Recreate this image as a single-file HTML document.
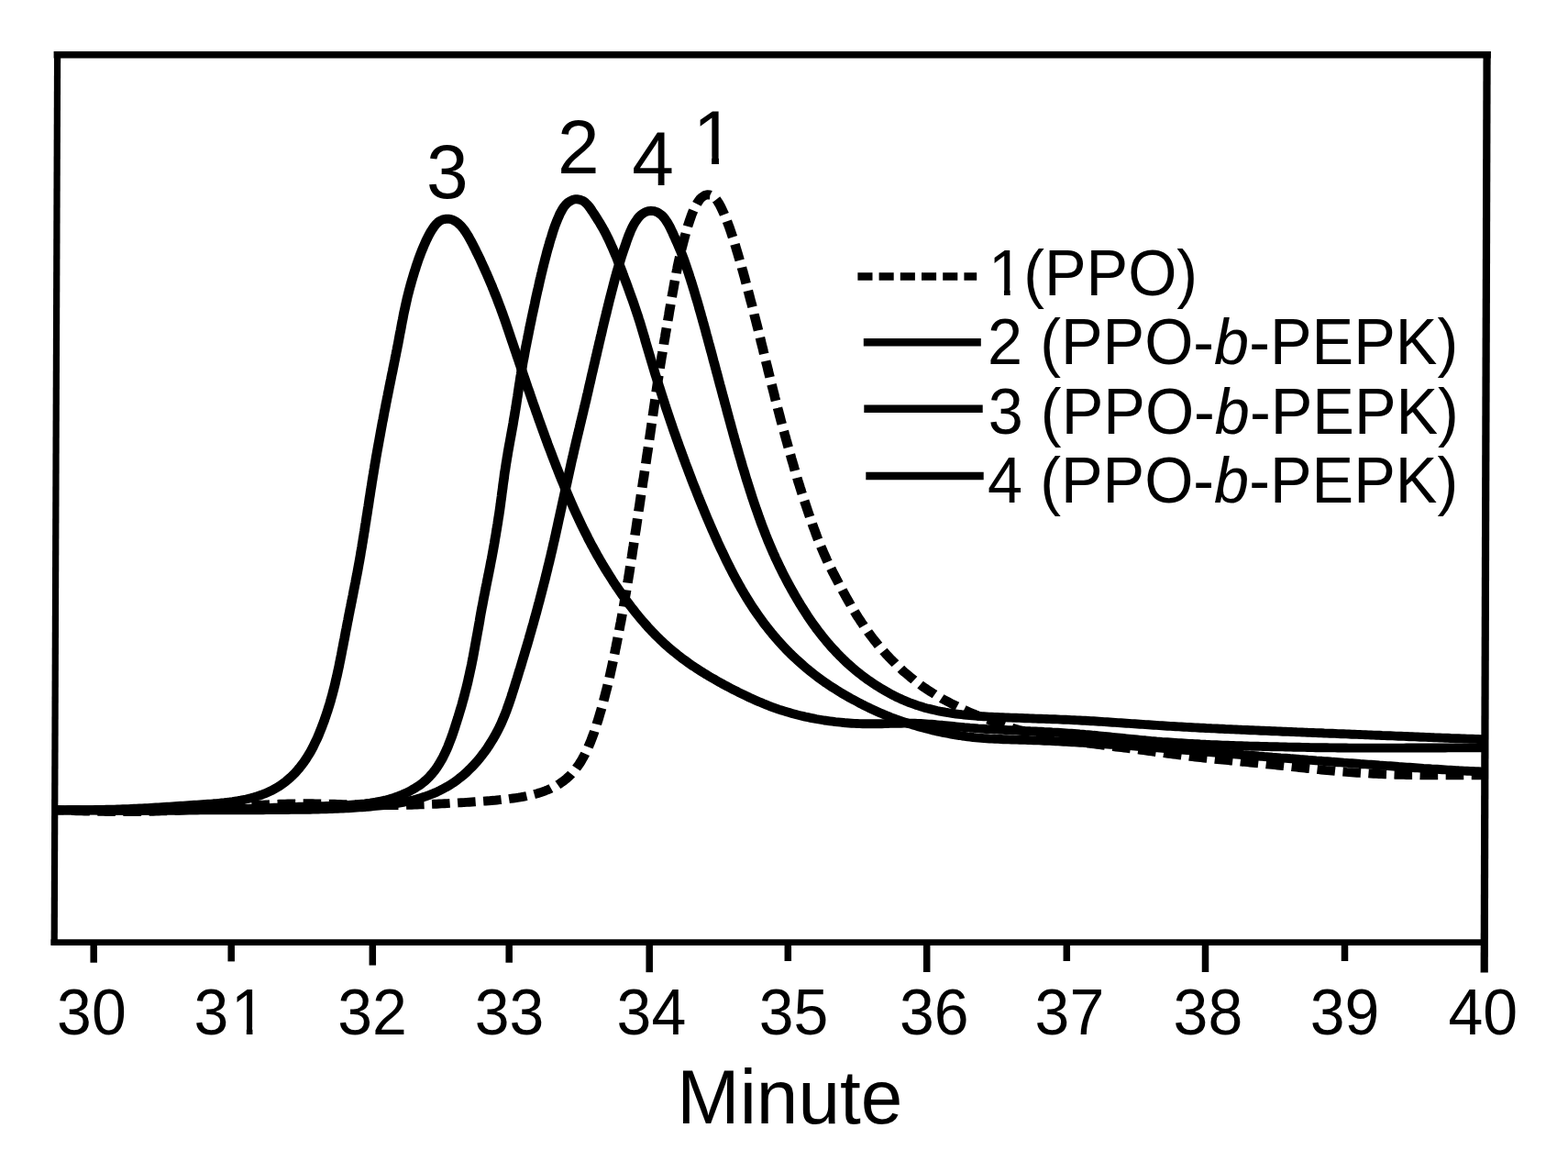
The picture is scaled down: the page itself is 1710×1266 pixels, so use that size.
<!DOCTYPE html>
<html lang="en"><head><meta charset="utf-8"><title>GPC traces</title>
<style>
html,body{margin:0;padding:0;background:#fff;}
body{width:1710px;height:1266px;overflow:hidden;}
svg{display:block;filter:blur(0.6px);}
text{font-family:"Liberation Sans",sans-serif;fill:#000;white-space:pre;}
.c{fill:none;stroke:#000;stroke-width:9.9;stroke-linejoin:round;stroke-linecap:butt;}
.f{fill:none;stroke:#000;stroke-linecap:butt;}
.tl{font-size:68px;}
.lg{font-size:68.4px;}
.pk{font-size:82px;}
.ax{font-size:82px;}
</style></head><body>
<svg width="1710" height="1266" viewBox="0 0 1710 1266">
<rect x="0" y="0" width="1710" height="1266" fill="#fff"/>
<defs><clipPath id="kt31" clipPathUnits="userSpaceOnUse"><path clip-rule="evenodd" d="M-50 -50H1800V1400H-50Z M255.42 1120.02H268.82V1130.60H255.42Z M275.43 1120.02H288.06V1130.60H275.43Z"/></clipPath><clipPath id="kp1" clipPathUnits="userSpaceOnUse"><path clip-rule="evenodd" d="M-50 -50H1800V1400H-50Z M759.90 170.57H776.12V182.20H759.90Z M783.96 170.57H799.26V182.20H783.96Z"/></clipPath><clipPath id="kl1" clipPathUnits="userSpaceOnUse"><path clip-rule="evenodd" d="M-50 -50H1800V1400H-50Z M1081.52 314.09H1095.00V324.70H1081.52Z M1101.64 314.09H1114.35V324.70H1101.64Z"/></clipPath></defs>
<g id="curves" transform="scale(1.07,1)">
<path class="c" stroke-dasharray="18.3 7.95" stroke-dashoffset="11.03" d="M57.9 883.4L60.7 883.5 63.5 883.6 66.4 883.7 69.2 883.9 72.0 884.0 74.8 884.1 77.6 884.2 80.4 884.3 83.2 884.4 86.0 884.5 88.8 884.6 91.6 884.6 94.4 884.7 97.2 884.8 100.0 884.8 102.8 884.9 105.6 884.9 108.4 885.0 111.2 885.0 114.0 885.0 116.8 885.1 119.6 885.1 122.4 885.1 125.2 885.1 128.0 885.1 130.8 885.1 133.7 885.1 136.5 885.0 139.3 885.0 142.1 885.0 144.9 884.9 147.7 884.9 150.5 884.8 153.3 884.7 156.1 884.7 158.9 884.6 161.7 884.5 164.5 884.4 167.3 884.3 170.1 884.2 172.9 884.1 175.7 883.9 178.5 883.8 181.3 883.7 184.1 883.5 186.9 883.4 189.7 883.2 192.5 883.0 195.3 882.8 198.1 882.7 200.9 882.5 203.7 882.3 206.5 882.1 209.3 881.9 212.1 881.7 214.9 881.4 217.7 881.2 220.5 881.0 223.3 880.8 226.1 880.6 228.9 880.4 231.7 880.1 234.5 879.9 237.3 879.7 240.1 879.5 242.9 879.3 245.7 879.1 248.5 878.9 251.3 878.7 254.1 878.5 256.9 878.3 259.7 878.1 262.5 877.9 265.3 877.7 268.1 877.6 270.9 877.4 273.7 877.3 276.5 877.1 279.3 877.0 282.1 876.9 284.9 876.8 287.7 876.7 290.5 876.6 293.3 876.5 296.1 876.5 298.9 876.4 301.7 876.4 304.5 876.4 307.3 876.3 310.1 876.3 312.9 876.3 315.7 876.3 318.5 876.3 321.3 876.4 324.2 876.4 327.0 876.5 329.8 876.5 332.6 876.6 335.4 876.6 338.2 876.7 341.0 876.8 343.8 876.9 346.6 877.0 349.4 877.1 352.2 877.1 355.0 877.2 357.8 877.3 360.6 877.4 363.4 877.5 366.2 877.6 369.0 877.7 371.8 877.8 374.6 877.9 377.4 877.9 380.2 878.0 383.0 878.0 385.8 878.1 388.6 878.1 391.4 878.1 394.3 878.1 397.1 878.1 399.9 878.1 402.7 878.1 405.5 878.0 408.3 878.0 411.1 877.9 413.9 877.9 416.7 877.8 419.5 877.7 422.3 877.6 425.1 877.5 427.9 877.4 430.7 877.3 433.5 877.2 436.3 877.0 439.1 876.9 441.9 876.8 444.7 876.7 447.5 876.5 450.3 876.4 453.1 876.2 455.9 876.1 458.7 875.9 461.5 875.7 464.3 875.6 467.1 875.4 469.9 875.2 472.7 875.1 475.5 874.9 478.3 874.7 481.1 874.5 483.9 874.3 486.7 874.1 489.5 873.9 492.3 873.7 495.1 873.5 497.9 873.3 500.7 873.0 503.5 872.8 506.3 872.5 509.1 872.2 511.9 871.9 514.7 871.6 517.5 871.3 520.2 870.9 523.0 870.5 525.8 870.1 528.6 869.7 531.3 869.2 534.1 868.6 536.9 868.0 539.6 867.4 542.3 866.7 545.0 866.0 547.7 865.2 550.4 864.3 553.1 863.3 555.7 862.3 558.3 861.2 560.9 860.0 563.4 858.7 565.9 857.4 568.4 855.9 570.8 854.3 573.1 852.6 575.3 850.8 577.5 848.9 579.6 846.9 581.6 844.8 583.5 842.6 585.3 840.4 587.1 838.0 588.8 835.6 590.4 833.1 591.9 830.6 593.3 828.0 594.7 825.4 596.0 822.8 597.3 820.1 598.5 817.4 599.6 814.7 600.7 811.9 601.8 809.1 602.8 806.3 603.8 803.5 604.8 800.7 605.7 797.9 606.6 795.0 607.5 792.2 608.3 789.3 609.2 786.5 610.0 783.6 610.8 780.7 611.6 777.8 612.4 775.0 613.2 772.1 613.9 769.2 614.7 766.3 615.4 763.4 616.1 760.5 616.8 757.6 617.5 754.7 618.2 751.8 618.9 748.9 619.6 745.9 620.2 743.0 620.9 740.1 621.5 737.2 622.1 734.2 622.7 731.3 623.3 728.4 623.9 725.5 624.5 722.5 625.1 719.6 625.6 716.6 626.2 713.7 626.8 710.8 627.3 707.8 627.9 704.9 628.4 701.9 629.0 699.0 629.5 696.0 630.0 693.1 630.6 690.1 631.1 687.2 631.6 684.3 632.1 681.3 632.7 678.4 633.2 675.4 633.7 672.5 634.2 669.5 634.7 666.5 635.2 663.6 635.7 660.6 636.2 657.7 636.6 654.7 637.1 651.8 637.6 648.8 638.1 645.9 638.5 642.9 639.0 639.9 639.5 637.0 639.9 634.0 640.4 631.0 640.8 628.1 641.3 625.1 641.7 622.2 642.1 619.2 642.6 616.2 643.0 613.3 643.4 610.3 643.9 607.3 644.3 604.4 644.7 601.4 645.1 598.4 645.6 595.5 646.0 592.5 646.4 589.5 646.8 586.6 647.2 583.6 647.6 580.6 648.1 577.7 648.5 574.7 648.9 571.7 649.3 568.8 649.7 565.8 650.1 562.8 650.5 559.8 650.9 556.9 651.4 553.9 651.8 550.9 652.2 548.0 652.6 545.0 653.0 542.0 653.4 539.1 653.9 536.1 654.3 533.1 654.7 530.2 655.1 527.2 655.5 524.2 656.0 521.3 656.4 518.3 656.8 515.3 657.2 512.4 657.7 509.4 658.1 506.4 658.5 503.5 658.9 500.5 659.3 497.5 659.7 494.6 660.2 491.6 660.6 488.6 661.0 485.7 661.4 482.7 661.8 479.7 662.2 476.7 662.6 473.8 663.0 470.8 663.4 467.8 663.8 464.9 664.2 461.9 664.6 458.9 665.0 455.9 665.4 453.0 665.8 450.0 666.2 447.0 666.6 444.1 667.0 441.1 667.4 438.1 667.8 435.2 668.2 432.2 668.6 429.2 669.0 426.2 669.4 423.3 669.8 420.3 670.2 417.3 670.6 414.4 671.1 411.4 671.5 408.4 671.9 405.5 672.4 402.5 672.8 399.5 673.2 396.6 673.7 393.6 674.1 390.7 674.6 387.7 675.1 384.7 675.5 381.8 676.0 378.8 676.5 375.9 676.9 372.9 677.4 369.9 677.9 367.0 678.3 364.0 678.8 361.1 679.3 358.1 679.8 355.1 680.2 352.2 680.7 349.2 681.2 346.3 681.7 343.3 682.1 340.4 682.6 337.4 683.1 334.4 683.6 331.5 684.1 328.5 684.5 325.6 685.0 322.6 685.5 319.7 686.0 316.7 686.5 313.8 687.0 310.8 687.5 307.8 688.0 304.9 688.5 301.9 689.1 299.0 689.6 296.1 690.2 293.1 690.7 290.2 691.3 287.2 691.9 284.3 692.5 281.4 693.1 278.4 693.8 275.5 694.4 272.6 695.1 269.7 695.8 266.8 696.5 263.9 697.2 261.0 697.9 258.1 698.7 255.2 699.4 252.3 700.2 249.4 701.0 246.5 701.9 243.7 702.8 240.8 703.7 238.0 704.6 235.2 705.6 232.4 706.7 229.6 707.9 226.9 709.2 224.2 710.6 221.6 712.1 219.1 713.8 216.7 715.9 214.7 718.2 213.1 720.9 212.3 723.7 212.5 726.3 213.7 728.5 215.6 730.3 217.8 731.9 220.3 733.3 222.9 734.6 225.5 735.8 228.2 737.0 230.9 738.2 233.7 739.3 236.4 740.3 239.2 741.3 242.0 742.3 244.8 743.3 247.7 744.2 250.5 745.1 253.3 746.0 256.2 746.9 259.0 747.7 261.9 748.6 264.8 749.4 267.6 750.2 270.5 751.0 273.4 751.8 276.2 752.6 279.1 753.4 282.0 754.2 284.9 755.0 287.8 755.8 290.6 756.5 293.5 757.3 296.4 758.0 299.3 758.8 302.2 759.5 305.1 760.2 308.0 761.0 310.9 761.7 313.8 762.4 316.7 763.1 319.6 763.8 322.5 764.5 325.4 765.2 328.3 766.0 331.2 766.7 334.1 767.4 337.0 768.1 339.9 768.7 342.8 769.4 345.8 770.1 348.7 770.8 351.6 771.5 354.5 772.2 357.4 772.9 360.3 773.5 363.2 774.2 366.1 774.9 369.0 775.5 372.0 776.2 374.9 776.9 377.8 777.6 380.7 778.2 383.6 778.9 386.5 779.6 389.4 780.2 392.4 780.9 395.3 781.6 398.2 782.3 401.1 782.9 404.0 783.6 406.9 784.3 409.8 785.0 412.8 785.6 415.7 786.3 418.6 787.0 421.5 787.7 424.4 788.4 427.3 789.1 430.2 789.7 433.1 790.4 436.0 791.1 438.9 791.8 441.8 792.5 444.8 793.3 447.7 794.0 450.6 794.7 453.5 795.4 456.4 796.1 459.3 796.9 462.2 797.6 465.1 798.3 468.0 799.1 470.8 799.8 473.7 800.6 476.6 801.3 479.5 802.1 482.4 802.8 485.3 803.6 488.2 804.3 491.1 805.1 494.0 805.9 496.9 806.6 499.7 807.4 502.6 808.2 505.5 809.0 508.4 809.7 511.3 810.5 514.2 811.3 517.0 812.1 519.9 812.9 522.8 813.7 525.7 814.6 528.5 815.4 531.4 816.3 534.3 817.1 537.1 818.0 540.0 818.8 542.8 819.7 545.7 820.6 548.5 821.5 551.4 822.4 554.2 823.3 557.1 824.2 559.9 825.1 562.7 826.0 565.6 827.0 568.4 827.9 571.2 828.8 574.1 829.8 576.9 830.8 579.7 831.7 582.5 832.7 585.3 833.7 588.1 834.8 590.9 835.8 593.7 836.9 596.5 838.0 599.2 839.1 602.0 840.2 604.7 841.4 607.5 842.5 610.2 843.7 612.9 845.0 615.6 846.2 618.3 847.5 621.0 848.7 623.7 850.0 626.3 851.3 629.0 852.6 631.7 853.9 634.3 855.2 637.0 856.5 639.6 857.9 642.3 859.2 644.9 860.6 647.5 861.9 650.1 863.3 652.8 864.7 655.4 866.1 658.0 867.5 660.6 868.9 663.2 870.3 665.7 871.8 668.3 873.2 670.9 874.7 673.4 876.3 675.9 877.8 678.4 879.4 680.9 880.9 683.4 882.5 685.9 884.2 688.3 885.8 690.7 887.5 693.1 889.2 695.5 890.9 697.9 892.7 700.2 894.4 702.6 896.2 704.9 898.1 707.2 899.9 709.4 901.8 711.7 903.7 713.9 905.6 716.1 907.5 718.2 909.5 720.4 911.5 722.5 913.5 724.6 915.5 726.7 917.5 728.7 919.6 730.8 921.7 732.8 923.8 734.7 926.0 736.7 928.1 738.6 930.3 740.4 932.5 742.3 934.8 744.1 937.0 745.9 939.3 747.7 941.6 749.4 943.9 751.1 946.2 752.7 948.6 754.4 951.0 756.0 953.3 757.5 955.8 759.1 958.2 760.6 960.6 762.1 963.1 763.5 965.6 764.9 968.0 766.3 970.5 767.7 973.0 769.0 975.6 770.3 978.1 771.6 980.6 772.9 983.2 774.1 985.8 775.4 988.3 776.6 990.9 777.8 993.5 778.9 996.1 780.1 998.7 781.2 1001.3 782.3 1003.9 783.4 1006.5 784.5 1009.1 785.5 1011.8 786.6 1014.4 787.6 1017.1 788.6 1019.7 789.6 1022.4 790.6 1025.0 791.5 1027.7 792.4 1030.4 793.3 1033.0 794.2 1035.7 795.1 1038.4 795.9 1041.1 796.7 1043.8 797.5 1046.5 798.3 1049.3 799.0 1052.0 799.7 1054.7 800.4 1057.5 801.1 1060.2 801.7 1062.9 802.3 1065.7 803.0 1068.4 803.5 1071.2 804.1 1073.9 804.7 1076.7 805.2 1079.5 805.7 1082.2 806.2 1085.0 806.7 1087.8 807.2 1090.5 807.7 1093.3 808.1 1096.1 808.6 1098.9 809.0 1101.6 809.4 1104.4 809.8 1107.2 810.3 1110.0 810.7 1112.8 811.1 1115.5 811.4 1118.3 811.8 1121.1 812.2 1123.9 812.6 1126.7 813.0 1129.4 813.4 1132.2 813.7 1135.0 814.1 1137.8 814.5 1140.6 814.8 1143.4 815.2 1146.1 815.6 1148.9 815.9 1151.7 816.3 1154.5 816.7 1157.3 817.1 1160.1 817.4 1162.8 817.8 1165.6 818.2 1168.4 818.6 1171.2 819.0 1174.0 819.4 1176.7 819.8 1179.5 820.2 1182.3 820.6 1185.1 821.0 1187.9 821.4 1190.6 821.8 1193.4 822.2 1196.2 822.6 1199.0 822.9 1201.8 823.3 1204.6 823.7 1207.3 824.1 1210.1 824.4 1212.9 824.8 1215.7 825.1 1218.5 825.5 1221.3 825.8 1224.1 826.2 1226.8 826.5 1229.6 826.8 1232.4 827.1 1235.2 827.4 1238.0 827.7 1240.8 828.0 1243.6 828.3 1246.4 828.6 1249.2 828.9 1252.0 829.2 1254.7 829.5 1257.5 829.8 1260.3 830.1 1263.1 830.4 1265.9 830.7 1268.7 830.9 1271.5 831.2 1274.3 831.5 1277.1 831.8 1279.9 832.1 1282.7 832.4 1285.5 832.7 1288.3 833.0 1291.0 833.3 1293.8 833.6 1296.6 833.9 1299.4 834.2 1302.2 834.5 1305.0 834.8 1307.8 835.1 1310.6 835.4 1313.4 835.7 1316.2 836.1 1318.9 836.4 1321.7 836.7 1324.5 837.0 1327.3 837.3 1330.1 837.6 1332.9 838.0 1335.7 838.3 1338.5 838.6 1341.3 838.9 1344.0 839.2 1346.8 839.5 1349.6 839.8 1352.4 840.1 1355.2 840.3 1358.0 840.6 1360.8 840.9 1363.6 841.1 1366.4 841.4 1369.2 841.6 1372.0 841.9 1374.8 842.1 1377.6 842.3 1380.4 842.5 1383.2 842.7 1386.0 842.9 1388.8 843.1 1391.6 843.3 1394.4 843.4 1397.2 843.6 1400.0 843.7 1402.8 843.9 1405.6 844.0 1408.4 844.1 1411.2 844.3 1414.0 844.4 1416.8 844.5 1419.6 844.6 1422.4 844.7 1425.2 844.7 1428.0 844.8 1430.8 844.9 1433.6 845.0 1436.4 845.0 1439.2 845.1 1442.0 845.1 1444.8 845.1 1447.6 845.2 1450.4 845.2 1453.2 845.2 1456.1 845.3 1458.9 845.3 1461.7 845.3 1464.5 845.3 1467.3 845.3 1470.1 845.3 1472.9 845.3 1475.7 845.3 1478.5 845.3 1481.3 845.3 1484.1 845.3 1486.9 845.3 1489.7 845.3 1492.5 845.3 1495.3 845.3 1498.1 845.3 1500.9 845.3 1503.7 845.3 1506.5 845.2 1509.3 845.2 1512.1 845.2 1515.0 845.2"/>
<path class="c" d="M57.9 883.4L60.7 883.4 63.6 883.4 66.4 883.4 69.2 883.3 72.0 883.3 74.8 883.3 77.6 883.3 80.4 883.3 83.2 883.2 86.0 883.2 88.8 883.2 91.6 883.1 94.4 883.1 97.2 883.0 100.0 883.0 102.8 882.9 105.6 882.9 108.4 882.8 111.2 882.7 114.0 882.7 116.8 882.6 119.6 882.5 122.4 882.4 125.2 882.3 128.0 882.2 130.8 882.1 133.6 881.9 136.5 881.8 139.3 881.7 142.1 881.5 144.9 881.4 147.7 881.2 150.5 881.1 153.3 880.9 156.1 880.7 158.9 880.5 161.7 880.4 164.5 880.2 167.3 880.0 170.1 879.8 172.9 879.6 175.7 879.4 178.4 879.2 181.2 879.0 184.0 878.8 186.8 878.6 189.6 878.4 192.4 878.2 195.2 878.0 198.0 877.8 200.8 877.6 203.6 877.4 206.4 877.2 209.2 877.0 212.0 876.8 214.8 876.6 217.6 876.3 220.4 876.1 223.2 875.8 226.0 875.5 228.8 875.2 231.6 874.8 234.4 874.5 237.1 874.1 239.9 873.6 242.7 873.2 245.4 872.7 248.2 872.1 250.9 871.5 253.7 870.8 256.4 870.1 259.1 869.3 261.8 868.4 264.4 867.5 267.1 866.5 269.7 865.4 272.3 864.2 274.8 863.0 277.4 861.7 279.8 860.2 282.3 858.7 284.7 857.2 287.0 855.5 289.3 853.8 291.5 851.9 293.6 850.0 295.8 848.0 297.8 846.0 299.8 843.9 301.7 841.7 303.6 839.4 305.4 837.1 307.1 834.8 308.8 832.4 310.4 830.0 312.0 827.5 313.5 824.9 315.0 822.4 316.4 819.8 317.8 817.2 319.1 814.5 320.3 811.8 321.5 809.1 322.7 806.4 323.9 803.7 325.0 800.9 326.0 798.1 327.1 795.3 328.1 792.5 329.1 789.7 330.1 786.9 331.0 784.1 331.9 781.3 332.8 778.4 333.7 775.6 334.5 772.7 335.4 769.8 336.2 767.0 337.0 764.1 337.7 761.2 338.5 758.3 339.2 755.4 339.9 752.5 340.6 749.6 341.3 746.7 341.9 743.8 342.5 740.8 343.2 737.9 343.8 735.0 344.4 732.1 345.0 729.1 345.6 726.2 346.1 723.2 346.7 720.3 347.2 717.4 347.8 714.4 348.3 711.5 348.8 708.5 349.4 705.6 349.9 702.6 350.4 699.7 351.0 696.7 351.5 693.8 352.0 690.8 352.5 687.9 353.1 684.9 353.6 682.0 354.1 679.1 354.7 676.1 355.2 673.2 355.7 670.2 356.3 667.3 356.8 664.3 357.4 661.4 357.9 658.4 358.5 655.5 359.0 652.6 359.6 649.6 360.1 646.7 360.6 643.7 361.2 640.8 361.7 637.8 362.3 634.9 362.8 631.9 363.3 629.0 363.9 626.0 364.4 623.1 364.9 620.1 365.4 617.2 365.9 614.2 366.4 611.3 366.9 608.3 367.4 605.4 367.8 602.4 368.3 599.5 368.8 596.5 369.2 593.5 369.7 590.6 370.1 587.6 370.6 584.7 371.0 581.7 371.5 578.7 371.9 575.8 372.3 572.8 372.8 569.8 373.2 566.9 373.6 563.9 374.1 560.9 374.5 558.0 374.9 555.0 375.4 552.0 375.8 549.1 376.2 546.1 376.6 543.1 377.1 540.2 377.5 537.2 377.9 534.3 378.4 531.3 378.8 528.3 379.2 525.4 379.7 522.4 380.1 519.4 380.6 516.5 381.0 513.5 381.5 510.5 381.9 507.6 382.4 504.6 382.9 501.7 383.3 498.7 383.8 495.8 384.3 492.8 384.8 489.8 385.3 486.9 385.8 483.9 386.3 481.0 386.8 478.0 387.3 475.1 387.8 472.1 388.3 469.2 388.8 466.2 389.3 463.3 389.8 460.3 390.4 457.4 390.9 454.4 391.4 451.5 391.9 448.5 392.5 445.6 393.0 442.6 393.5 439.7 394.1 436.8 394.6 433.8 395.2 430.9 395.7 427.9 396.3 425.0 396.8 422.0 397.4 419.1 397.9 416.2 398.5 413.2 399.0 410.3 399.6 407.3 400.2 404.4 400.7 401.4 401.3 398.5 401.8 395.6 402.4 392.6 402.9 389.7 403.5 386.7 404.0 383.8 404.6 380.9 405.1 377.9 405.7 375.0 406.2 372.0 406.7 369.1 407.2 366.1 407.7 363.2 408.3 360.2 408.8 357.3 409.3 354.3 409.8 351.4 410.4 348.4 410.9 345.5 411.4 342.5 412.0 339.6 412.6 336.7 413.2 333.7 413.8 330.8 414.4 327.9 415.0 325.0 415.7 322.0 416.4 319.1 417.1 316.2 417.8 313.3 418.6 310.4 419.3 307.5 420.1 304.7 420.9 301.8 421.7 298.9 422.5 296.0 423.4 293.2 424.2 290.3 425.1 287.5 426.0 284.6 426.9 281.8 427.9 279.0 428.9 276.2 429.9 273.4 431.0 270.6 432.1 267.8 433.2 265.1 434.3 262.4 435.6 259.6 436.8 257.0 438.2 254.3 439.6 251.7 441.1 249.2 442.7 246.8 444.5 244.4 446.5 242.3 448.8 240.6 451.3 239.4 454.1 238.8 456.9 238.7 459.6 239.2 462.3 240.2 464.7 241.6 467.0 243.4 469.0 245.4 470.9 247.7 472.7 250.0 474.3 252.5 475.8 255.0 477.3 257.5 478.6 260.1 480.0 262.8 481.3 265.4 482.6 268.1 483.9 270.8 485.1 273.5 486.3 276.2 487.6 278.9 488.8 281.6 490.0 284.3 491.1 287.0 492.3 289.7 493.5 292.5 494.6 295.2 495.8 297.9 496.9 300.7 498.0 303.4 499.1 306.2 500.2 309.0 501.3 311.7 502.3 314.5 503.4 317.3 504.4 320.1 505.5 322.9 506.5 325.7 507.5 328.5 508.5 331.3 509.5 334.1 510.5 336.9 511.4 339.7 512.4 342.5 513.3 345.4 514.3 348.2 515.2 351.0 516.1 353.9 517.0 356.7 517.9 359.5 518.8 362.4 519.7 365.2 520.6 368.1 521.5 370.9 522.4 373.7 523.3 376.6 524.2 379.4 525.1 382.3 526.0 385.1 526.9 388.0 527.8 390.8 528.7 393.6 529.6 396.5 530.5 399.3 531.4 402.2 532.3 405.0 533.2 407.9 534.1 410.7 535.0 413.5 535.9 416.4 536.8 419.2 537.7 422.1 538.6 424.9 539.6 427.7 540.5 430.6 541.4 433.4 542.3 436.2 543.2 439.1 544.1 441.9 545.1 444.7 546.0 447.6 546.9 450.4 547.9 453.2 548.8 456.1 549.7 458.9 550.7 461.7 551.6 464.5 552.6 467.4 553.5 470.2 554.5 473.0 555.4 475.8 556.4 478.7 557.4 481.5 558.3 484.3 559.3 487.1 560.3 489.9 561.3 492.7 562.3 495.5 563.3 498.3 564.3 501.1 565.3 503.9 566.3 506.7 567.3 509.5 568.4 512.3 569.4 515.1 570.4 517.9 571.5 520.7 572.5 523.5 573.6 526.2 574.7 529.0 575.7 531.8 576.8 534.5 577.9 537.3 579.0 540.1 580.1 542.8 581.2 545.6 582.3 548.3 583.5 551.1 584.6 553.8 585.8 556.6 586.9 559.3 588.1 562.0 589.3 564.7 590.5 567.5 591.7 570.2 592.9 572.9 594.1 575.6 595.4 578.3 596.6 580.9 597.9 583.6 599.1 586.3 600.4 589.0 601.7 591.6 603.0 594.3 604.4 596.9 605.7 599.6 607.1 602.2 608.4 604.8 609.8 607.4 611.2 610.0 612.6 612.6 614.0 615.2 615.5 617.8 616.9 620.4 618.4 622.9 619.9 625.5 621.4 628.0 622.9 630.5 624.4 633.1 625.9 635.6 627.5 638.1 629.0 640.6 630.6 643.0 632.2 645.5 633.8 648.0 635.4 650.4 637.1 652.8 638.7 655.3 640.4 657.7 642.1 660.1 643.8 662.5 645.5 664.8 647.2 667.2 649.0 669.5 650.8 671.9 652.6 674.2 654.4 676.5 656.2 678.7 658.1 681.0 659.9 683.2 661.8 685.4 663.7 687.6 665.7 689.8 667.6 692.0 669.6 694.1 671.6 696.2 673.6 698.3 675.6 700.3 677.7 702.4 679.8 704.4 681.9 706.3 684.0 708.3 686.2 710.2 688.4 712.1 690.6 714.0 692.8 715.8 695.0 717.7 697.3 719.4 699.5 721.2 701.8 723.0 704.1 724.7 706.4 726.4 708.8 728.0 711.1 729.7 713.5 731.3 715.8 732.9 718.2 734.5 720.6 736.0 723.0 737.6 725.4 739.1 727.9 740.6 730.3 742.1 732.7 743.6 735.2 745.0 737.6 746.5 740.1 747.9 742.6 749.3 745.1 750.7 747.6 752.1 750.1 753.4 752.6 754.8 755.1 756.1 757.6 757.4 760.1 758.7 762.7 760.0 765.2 761.3 767.8 762.5 770.3 763.7 772.9 764.9 775.5 766.1 778.1 767.3 780.7 768.4 783.3 769.5 785.9 770.6 788.5 771.6 791.2 772.6 793.8 773.6 796.5 774.5 799.2 775.4 801.9 776.3 804.5 777.1 807.2 777.9 810.0 778.7 812.7 779.5 815.4 780.2 818.1 780.9 820.8 781.6 823.6 782.2 826.3 782.8 829.1 783.4 831.8 784.0 834.6 784.5 837.4 785.0 840.1 785.5 842.9 785.9 845.7 786.3 848.5 786.7 851.3 787.1 854.0 787.4 856.8 787.7 859.6 788.0 862.4 788.3 865.2 788.5 868.0 788.7 870.8 788.9 873.6 789.0 876.4 789.1 879.2 789.2 882.0 789.3 884.8 789.3 887.6 789.3 890.4 789.3 893.2 789.3 896.0 789.2 898.8 789.2 901.7 789.1 904.5 789.0 907.3 788.9 910.1 788.8 912.9 788.8 915.7 788.7 918.5 788.7 921.3 788.6 924.1 788.6 926.9 788.7 929.7 788.7 932.5 788.8 935.3 788.9 938.1 789.0 940.9 789.2 943.7 789.4 946.5 789.6 949.3 789.8 952.1 790.0 954.9 790.3 957.7 790.6 960.5 790.8 963.3 791.1 966.0 791.4 968.8 791.7 971.6 792.0 974.4 792.3 977.2 792.6 980.0 792.9 982.8 793.2 985.6 793.4 988.4 793.7 991.2 793.9 994.0 794.1 996.8 794.4 999.6 794.6 1002.4 794.8 1005.2 795.0 1008.0 795.1 1010.8 795.3 1013.6 795.5 1016.4 795.6 1019.2 795.8 1022.0 795.9 1024.8 796.0 1027.6 796.2 1030.4 796.3 1033.2 796.5 1036.0 796.6 1038.8 796.7 1041.6 796.8 1044.4 797.0 1047.2 797.1 1050.0 797.3 1052.8 797.4 1055.6 797.5 1058.4 797.7 1061.2 797.8 1064.0 798.0 1066.8 798.1 1069.6 798.3 1072.4 798.5 1075.2 798.6 1078.0 798.8 1080.8 799.0 1083.6 799.2 1086.4 799.4 1089.2 799.6 1092.0 799.8 1094.8 800.0 1097.6 800.2 1100.4 800.5 1103.2 800.7 1106.0 801.0 1108.8 801.2 1111.6 801.5 1114.4 801.8 1117.1 802.0 1119.9 802.3 1122.7 802.6 1125.5 802.9 1128.3 803.2 1131.1 803.5 1133.9 803.8 1136.7 804.1 1139.5 804.4 1142.3 804.7 1145.1 805.0 1147.8 805.3 1150.6 805.6 1153.4 805.9 1156.2 806.2 1159.0 806.5 1161.8 806.8 1164.6 807.1 1167.4 807.3 1170.2 807.6 1173.0 807.9 1175.8 808.1 1178.6 808.4 1181.4 808.6 1184.2 808.9 1186.9 809.1 1189.7 809.3 1192.5 809.5 1195.3 809.7 1198.1 809.9 1200.9 810.1 1203.7 810.3 1206.5 810.5 1209.3 810.7 1212.1 810.9 1214.9 811.0 1217.7 811.2 1220.5 811.3 1223.3 811.5 1226.1 811.6 1228.9 811.8 1231.7 811.9 1234.5 812.1 1237.3 812.2 1240.1 812.3 1242.9 812.4 1245.8 812.6 1248.6 812.7 1251.4 812.8 1254.2 812.9 1257.0 813.0 1259.8 813.1 1262.6 813.2 1265.4 813.3 1268.2 813.4 1271.0 813.5 1273.8 813.6 1276.6 813.7 1279.4 813.7 1282.2 813.8 1285.0 813.9 1287.8 814.0 1290.6 814.0 1293.4 814.1 1296.2 814.2 1299.0 814.2 1301.8 814.3 1304.6 814.4 1307.4 814.4 1310.2 814.5 1313.0 814.6 1315.8 814.6 1318.6 814.7 1321.4 814.8 1324.2 814.8 1327.1 814.9 1329.9 814.9 1332.7 815.0 1335.5 815.1 1338.3 815.1 1341.1 815.2 1343.9 815.2 1346.7 815.3 1349.5 815.3 1352.3 815.3 1355.1 815.4 1357.9 815.4 1360.7 815.4 1363.5 815.5 1366.3 815.5 1369.1 815.5 1371.9 815.5 1374.7 815.6 1377.5 815.6 1380.3 815.6 1383.1 815.6 1385.9 815.6 1388.7 815.6 1391.6 815.6 1394.4 815.6 1397.2 815.6 1400.0 815.6 1402.8 815.6 1405.6 815.6 1408.4 815.6 1411.2 815.6 1414.0 815.6 1416.8 815.6 1419.6 815.6 1422.4 815.6 1425.2 815.6 1428.0 815.6 1430.8 815.6 1433.6 815.5 1436.4 815.5 1439.2 815.5 1442.0 815.5 1444.8 815.5 1447.6 815.5 1450.4 815.5 1453.3 815.5 1456.1 815.5 1458.9 815.5 1461.7 815.5 1464.5 815.5 1467.3 815.5 1470.1 815.5 1472.9 815.5 1475.7 815.4 1478.5 815.4 1481.3 815.4 1484.1 815.4 1486.9 815.4 1489.7 815.4 1492.5 815.4 1495.3 815.4 1498.1 815.4 1500.9 815.4 1503.7 815.4 1506.5 815.4 1509.3 815.4 1512.1 815.4 1515.0 815.4"/>
<path class="c" d="M57.9 883.4L60.7 883.4 63.6 883.4 66.4 883.5 69.2 883.5 72.0 883.5 74.8 883.5 77.6 883.5 80.4 883.5 83.2 883.6 86.0 883.6 88.8 883.6 91.6 883.6 94.4 883.6 97.2 883.6 100.0 883.6 102.8 883.7 105.6 883.7 108.4 883.7 111.2 883.7 114.0 883.7 116.8 883.7 119.6 883.7 122.4 883.7 125.2 883.7 128.1 883.7 130.9 883.7 133.7 883.7 136.5 883.7 139.3 883.7 142.1 883.7 144.9 883.7 147.7 883.7 150.5 883.7 153.3 883.7 156.1 883.7 158.9 883.7 161.7 883.6 164.5 883.6 167.3 883.6 170.1 883.6 172.9 883.5 175.7 883.5 178.5 883.5 181.3 883.5 184.1 883.4 186.9 883.4 189.7 883.3 192.5 883.3 195.4 883.3 198.2 883.2 201.0 883.2 203.8 883.1 206.6 883.1 209.4 883.0 212.2 882.9 215.0 882.9 217.8 882.8 220.6 882.8 223.4 882.7 226.2 882.6 229.0 882.5 231.8 882.5 234.6 882.4 237.4 882.3 240.2 882.2 243.0 882.1 245.8 882.1 248.6 882.0 251.4 881.9 254.2 881.8 257.0 881.7 259.8 881.6 262.6 881.5 265.4 881.4 268.2 881.3 271.0 881.2 273.8 881.1 276.6 880.9 279.4 880.8 282.3 880.7 285.1 880.6 287.9 880.5 290.7 880.4 293.5 880.2 296.3 880.1 299.1 880.0 301.9 879.9 304.7 879.8 307.5 879.7 310.3 879.6 313.1 879.5 315.9 879.4 318.7 879.4 321.5 879.3 324.3 879.2 327.1 879.1 329.9 879.1 332.7 879.0 335.5 878.9 338.3 878.8 341.1 878.7 343.9 878.5 346.7 878.4 349.5 878.3 352.3 878.1 355.1 877.9 357.9 877.7 360.7 877.5 363.5 877.3 366.3 877.0 369.1 876.7 371.9 876.4 374.7 876.0 377.4 875.6 380.2 875.1 383.0 874.7 385.7 874.1 388.5 873.5 391.2 872.9 393.9 872.2 396.7 871.4 399.3 870.6 402.0 869.7 404.7 868.7 407.3 867.6 409.9 866.5 412.5 865.3 415.0 864.1 417.5 862.7 420.0 861.3 422.4 859.8 424.8 858.2 427.2 856.6 429.4 854.8 431.6 853.0 433.8 851.0 435.8 849.0 437.8 846.8 439.7 844.6 441.5 842.3 443.2 840.0 444.9 837.5 446.4 835.0 447.9 832.5 449.3 829.9 450.7 827.3 452.0 824.6 453.2 821.9 454.4 819.2 455.6 816.5 456.7 813.7 457.7 810.9 458.7 808.1 459.7 805.3 460.7 802.5 461.6 799.7 462.5 796.8 463.4 794.0 464.2 791.1 465.1 788.3 465.9 785.4 466.8 782.5 467.6 779.7 468.4 776.8 469.2 773.9 470.0 771.1 470.8 768.2 471.5 765.3 472.3 762.4 473.0 759.5 473.7 756.6 474.4 753.7 475.1 750.8 475.8 747.9 476.5 744.9 477.1 742.0 477.7 739.1 478.3 736.2 478.9 733.2 479.5 730.3 480.1 727.4 480.7 724.4 481.2 721.5 481.8 718.5 482.3 715.6 482.8 712.6 483.3 709.7 483.8 706.8 484.3 703.8 484.8 700.8 485.3 697.9 485.8 694.9 486.3 692.0 486.8 689.0 487.3 686.1 487.8 683.1 488.3 680.2 488.8 677.2 489.2 674.3 489.7 671.3 490.2 668.3 490.7 665.4 491.2 662.4 491.8 659.5 492.3 656.5 492.8 653.6 493.3 650.7 493.9 647.7 494.4 644.8 495.0 641.8 495.5 638.9 496.1 635.9 496.6 633.0 497.2 630.1 497.7 627.1 498.3 624.2 498.8 621.2 499.4 618.3 499.9 615.3 500.4 612.4 501.0 609.4 501.5 606.5 502.0 603.5 502.5 600.6 503.0 597.6 503.5 594.7 504.0 591.7 504.4 588.8 504.9 585.8 505.4 582.9 505.8 579.9 506.3 576.9 506.7 574.0 507.2 571.0 507.6 568.0 508.0 565.1 508.5 562.1 508.9 559.1 509.3 556.2 509.7 553.2 510.1 550.2 510.4 547.3 510.8 544.3 511.2 541.3 511.5 538.3 511.9 535.4 512.3 532.4 512.6 529.4 513.0 526.4 513.4 523.5 513.8 520.5 514.1 517.5 514.5 514.5 515.0 511.6 515.4 508.6 515.8 505.6 516.3 502.7 516.7 499.7 517.2 496.8 517.6 493.8 518.1 490.9 518.6 487.9 519.1 484.9 519.6 482.0 520.1 479.0 520.6 476.1 521.1 473.1 521.6 470.2 522.1 467.2 522.6 464.3 523.1 461.3 523.5 458.4 524.0 455.4 524.5 452.4 524.9 449.5 525.4 446.5 525.8 443.6 526.3 440.6 526.7 437.6 527.1 434.7 527.6 431.7 528.0 428.7 528.4 425.8 528.8 422.8 529.2 419.8 529.7 416.9 530.1 413.9 530.5 410.9 531.0 408.0 531.4 405.0 531.9 402.0 532.4 399.1 532.8 396.1 533.3 393.2 533.9 390.2 534.4 387.3 534.9 384.3 535.4 381.4 535.9 378.4 536.5 375.5 537.0 372.6 537.6 369.6 538.1 366.7 538.7 363.7 539.2 360.8 539.8 357.8 540.3 354.9 540.9 352.0 541.5 349.0 542.0 346.1 542.6 343.1 543.2 340.2 543.8 337.3 544.4 334.3 545.0 331.4 545.5 328.5 546.1 325.5 546.7 322.6 547.3 319.7 547.9 316.8 548.6 313.8 549.2 310.9 549.8 308.0 550.4 305.0 551.1 302.1 551.7 299.2 552.4 296.3 553.0 293.4 553.7 290.5 554.4 287.5 555.1 284.6 555.8 281.7 556.5 278.8 557.2 275.9 557.9 273.0 558.7 270.1 559.5 267.3 560.2 264.4 561.0 261.5 561.9 258.6 562.7 255.8 563.5 252.9 564.4 250.1 565.3 247.2 566.3 244.4 567.3 241.6 568.4 238.8 569.5 236.1 570.6 233.3 571.9 230.7 573.3 228.0 574.8 225.5 576.6 223.2 578.6 221.1 580.9 219.4 583.4 218.1 586.1 217.3 588.9 217.3 591.6 217.9 594.2 219.1 596.5 220.8 598.5 222.9 600.3 225.1 602.0 227.6 603.5 230.1 605.1 232.6 606.6 235.1 608.1 237.6 609.6 240.2 611.1 242.7 612.5 245.3 613.9 247.9 615.3 250.5 616.6 253.2 617.9 255.8 619.1 258.5 620.4 261.2 621.6 263.9 622.7 266.7 623.9 269.4 625.0 272.1 626.1 274.9 627.2 277.7 628.3 280.4 629.3 283.2 630.3 286.0 631.4 288.8 632.4 291.6 633.4 294.4 634.4 297.2 635.3 300.0 636.3 302.8 637.3 305.7 638.3 308.5 639.3 311.3 640.2 314.1 641.2 316.9 642.1 319.7 643.1 322.6 644.0 325.4 645.0 328.2 645.9 331.0 646.8 333.9 647.7 336.7 648.6 339.6 649.5 342.4 650.4 345.3 651.2 348.1 652.1 351.0 652.9 353.8 653.7 356.7 654.5 359.6 655.3 362.5 656.1 365.4 656.9 368.2 657.6 371.1 658.4 374.0 659.2 376.9 660.0 379.8 660.8 382.6 661.6 385.5 662.4 388.4 663.2 391.3 664.0 394.2 664.8 397.0 665.6 399.9 666.4 402.8 667.2 405.6 668.0 408.5 668.9 411.4 669.7 414.2 670.5 417.1 671.4 420.0 672.2 422.8 673.1 425.7 673.9 428.5 674.8 431.4 675.6 434.3 676.5 437.1 677.4 440.0 678.2 442.8 679.1 445.7 680.0 448.5 680.9 451.4 681.8 454.2 682.7 457.1 683.6 459.9 684.5 462.7 685.4 465.6 686.3 468.4 687.2 471.2 688.2 474.1 689.1 476.9 690.0 479.7 691.0 482.6 691.9 485.4 692.8 488.2 693.8 491.0 694.8 493.9 695.7 496.7 696.7 499.5 697.7 502.3 698.6 505.1 699.6 507.9 700.6 510.7 701.6 513.5 702.6 516.4 703.6 519.2 704.6 522.0 705.6 524.8 706.6 527.6 707.6 530.3 708.7 533.1 709.7 535.9 710.7 538.7 711.8 541.5 712.8 544.3 713.9 547.1 714.9 549.8 716.0 552.6 717.1 555.4 718.1 558.2 719.2 560.9 720.3 563.7 721.4 566.5 722.5 569.2 723.6 572.0 724.7 574.7 725.8 577.5 727.0 580.2 728.1 583.0 729.2 585.7 730.4 588.5 731.5 591.2 732.7 593.9 733.9 596.7 735.1 599.4 736.3 602.1 737.5 604.8 738.7 607.5 739.9 610.2 741.1 612.9 742.4 615.6 743.6 618.3 744.9 620.9 746.2 623.6 747.5 626.3 748.8 628.9 750.1 631.6 751.5 634.2 752.8 636.8 754.2 639.4 755.6 642.1 757.0 644.6 758.4 647.2 759.9 649.8 761.3 652.4 762.8 654.9 764.3 657.5 765.8 660.0 767.3 662.5 768.9 665.0 770.5 667.5 772.1 669.9 773.7 672.4 775.3 674.8 777.0 677.3 778.6 679.7 780.3 682.0 782.1 684.4 783.8 686.8 785.6 689.1 787.3 691.4 789.1 693.7 791.0 696.0 792.8 698.3 794.7 700.5 796.6 702.7 798.5 704.9 800.4 707.1 802.4 709.3 804.3 711.4 806.3 713.5 808.3 715.6 810.4 717.6 812.4 719.7 814.5 721.7 816.6 723.7 818.7 725.7 820.8 727.6 823.0 729.6 825.2 731.5 827.3 733.3 829.6 735.2 831.8 737.0 834.0 738.8 836.3 740.6 838.6 742.4 840.8 744.1 843.2 745.8 845.5 747.5 847.8 749.1 850.2 750.7 852.5 752.3 854.9 753.9 857.3 755.5 859.7 757.0 862.2 758.5 864.6 760.0 867.0 761.5 869.5 762.9 872.0 764.3 874.5 765.7 876.9 767.1 879.4 768.5 881.9 769.8 884.5 771.2 887.0 772.5 889.5 773.7 892.1 775.0 894.6 776.2 897.2 777.4 899.8 778.6 902.4 779.7 905.0 780.9 907.6 782.0 910.2 783.0 912.8 784.1 915.5 785.1 918.1 786.1 920.8 787.1 923.4 788.0 926.1 789.0 928.8 789.9 931.4 790.8 934.1 791.6 936.8 792.5 939.5 793.3 942.2 794.0 944.9 794.8 947.7 795.5 950.4 796.3 953.1 796.9 955.8 797.6 958.6 798.2 961.3 798.9 964.1 799.5 966.8 800.0 969.6 800.6 972.4 801.1 975.1 801.6 977.9 802.0 980.7 802.5 983.4 802.9 986.2 803.3 989.0 803.6 991.8 804.0 994.6 804.3 997.4 804.6 1000.2 804.8 1003.0 805.1 1005.8 805.3 1008.6 805.5 1011.4 805.6 1014.2 805.8 1017.0 805.9 1019.8 806.0 1022.6 806.2 1025.4 806.3 1028.2 806.4 1031.0 806.5 1033.8 806.6 1036.6 806.6 1039.4 806.7 1042.2 806.8 1045.0 806.9 1047.8 807.0 1050.6 807.1 1053.4 807.2 1056.2 807.3 1059.0 807.4 1061.8 807.5 1064.6 807.7 1067.4 807.8 1070.2 807.9 1073.0 808.1 1075.8 808.2 1078.6 808.4 1081.4 808.5 1084.2 808.7 1087.0 808.8 1089.8 809.0 1092.6 809.2 1095.4 809.3 1098.2 809.5 1101.0 809.7 1103.8 809.8 1106.6 810.0 1109.4 810.2 1112.2 810.4 1115.0 810.5 1117.8 810.7 1120.6 810.9 1123.4 811.1 1126.2 811.3 1129.0 811.5 1131.8 811.7 1134.6 811.9 1137.4 812.1 1140.2 812.3 1143.0 812.5 1145.8 812.7 1148.6 812.9 1151.4 813.1 1154.2 813.3 1157.0 813.5 1159.8 813.8 1162.6 814.0 1165.4 814.2 1168.2 814.4 1171.0 814.6 1173.8 814.9 1176.6 815.1 1179.4 815.3 1182.2 815.6 1185.0 815.8 1187.7 816.1 1190.5 816.3 1193.3 816.5 1196.1 816.8 1198.9 817.0 1201.7 817.3 1204.5 817.5 1207.3 817.8 1210.1 818.0 1212.9 818.3 1215.7 818.5 1218.5 818.8 1221.3 819.1 1224.1 819.3 1226.9 819.6 1229.7 819.8 1232.5 820.1 1235.3 820.3 1238.0 820.6 1240.8 820.8 1243.6 821.1 1246.4 821.3 1249.2 821.6 1252.0 821.8 1254.8 822.1 1257.6 822.3 1260.4 822.6 1263.2 822.8 1266.0 823.0 1268.8 823.3 1271.6 823.5 1274.4 823.8 1277.2 824.0 1280.0 824.2 1282.8 824.5 1285.6 824.7 1288.4 825.0 1291.2 825.2 1293.9 825.4 1296.7 825.7 1299.5 825.9 1302.3 826.1 1305.1 826.4 1307.9 826.6 1310.7 826.8 1313.5 827.0 1316.3 827.3 1319.1 827.5 1321.9 827.7 1324.7 828.0 1327.5 828.2 1330.3 828.4 1333.1 828.7 1335.9 828.9 1338.7 829.1 1341.5 829.4 1344.3 829.6 1347.1 829.8 1349.9 830.1 1352.7 830.3 1355.5 830.5 1358.3 830.8 1361.1 831.0 1363.8 831.2 1366.6 831.4 1369.4 831.7 1372.2 831.9 1375.0 832.1 1377.8 832.3 1380.6 832.5 1383.4 832.7 1386.2 833.0 1389.0 833.2 1391.8 833.4 1394.6 833.6 1397.4 833.8 1400.2 834.0 1403.0 834.2 1405.8 834.5 1408.6 834.7 1411.4 834.9 1414.2 835.1 1417.0 835.3 1419.8 835.5 1422.6 835.7 1425.4 836.0 1428.2 836.2 1431.0 836.4 1433.8 836.6 1436.6 836.8 1439.4 837.0 1442.2 837.2 1445.0 837.4 1447.8 837.6 1450.6 837.9 1453.4 838.1 1456.2 838.3 1459.0 838.5 1461.8 838.6 1464.6 838.8 1467.4 839.0 1470.1 839.2 1472.9 839.4 1475.7 839.6 1478.5 839.7 1481.3 839.9 1484.1 840.1 1486.9 840.3 1489.7 840.4 1492.5 840.6 1495.3 840.7 1498.1 840.9 1500.9 841.0 1503.8 841.2 1506.6 841.3 1509.4 841.5 1512.2 841.6 1515.0 841.8"/>
<path class="c" d="M57.9 883.4L60.7 883.4 63.6 883.4 66.4 883.4 69.2 883.4 72.0 883.4 74.8 883.4 77.6 883.4 80.4 883.4 83.2 883.4 86.0 883.4 88.8 883.4 91.6 883.4 94.4 883.4 97.2 883.4 100.0 883.5 102.8 883.5 105.6 883.5 108.4 883.5 111.2 883.5 114.0 883.5 116.8 883.5 119.6 883.5 122.4 883.5 125.2 883.5 128.0 883.5 130.8 883.5 133.6 883.5 136.5 883.5 139.3 883.5 142.1 883.5 144.9 883.5 147.7 883.5 150.5 883.5 153.3 883.5 156.1 883.5 158.9 883.5 161.7 883.5 164.5 883.5 167.3 883.5 170.1 883.5 172.9 883.5 175.7 883.5 178.5 883.5 181.3 883.5 184.1 883.5 186.9 883.5 189.7 883.4 192.5 883.4 195.3 883.4 198.1 883.4 200.9 883.4 203.7 883.4 206.5 883.4 209.4 883.4 212.2 883.4 215.0 883.4 217.8 883.4 220.6 883.4 223.4 883.4 226.2 883.4 229.0 883.3 231.8 883.3 234.6 883.3 237.4 883.3 240.2 883.3 243.0 883.3 245.8 883.3 248.6 883.3 251.4 883.3 254.2 883.2 257.0 883.2 259.8 883.2 262.6 883.2 265.4 883.2 268.2 883.2 271.0 883.1 273.8 883.1 276.6 883.1 279.4 883.1 282.3 883.1 285.1 883.0 287.9 883.0 290.7 883.0 293.5 883.0 296.3 882.9 299.1 882.9 301.9 882.9 304.7 882.8 307.5 882.8 310.3 882.8 313.1 882.7 315.9 882.7 318.7 882.6 321.5 882.5 324.3 882.5 327.1 882.4 329.9 882.3 332.7 882.2 335.5 882.1 338.3 882.0 341.1 881.9 343.9 881.8 346.7 881.6 349.5 881.5 352.3 881.3 355.1 881.2 357.9 881.0 360.7 880.8 363.5 880.6 366.3 880.4 369.1 880.2 371.9 880.0 374.7 879.7 377.5 879.5 380.3 879.2 383.1 878.9 385.9 878.6 388.7 878.3 391.4 878.0 394.2 877.6 397.0 877.2 399.8 876.8 402.6 876.3 405.3 875.8 408.1 875.3 410.8 874.8 413.6 874.2 416.3 873.5 419.1 872.9 421.8 872.2 424.5 871.4 427.2 870.6 429.9 869.7 432.6 868.8 435.2 867.8 437.8 866.8 440.5 865.7 443.0 864.6 445.6 863.4 448.1 862.1 450.7 860.7 453.1 859.3 455.6 857.9 458.0 856.3 460.3 854.7 462.7 853.1 465.0 851.3 467.2 849.5 469.4 847.7 471.6 845.8 473.7 843.8 475.8 841.8 477.8 839.7 479.8 837.6 481.8 835.5 483.7 833.3 485.6 831.1 487.4 828.8 489.2 826.5 490.9 824.1 492.6 821.7 494.3 819.3 495.9 816.9 497.5 814.4 499.0 811.9 500.5 809.3 502.0 806.8 503.4 804.2 504.8 801.6 506.1 799.0 507.4 796.3 508.7 793.6 509.9 790.9 511.1 788.2 512.2 785.4 513.3 782.7 514.4 779.9 515.4 777.1 516.4 774.3 517.3 771.5 518.3 768.7 519.2 765.8 520.1 763.0 521.0 760.1 521.8 757.3 522.7 754.4 523.5 751.6 524.4 748.7 525.2 745.8 526.0 743.0 526.9 740.1 527.7 737.2 528.5 734.4 529.3 731.5 530.2 728.6 531.0 725.8 531.8 722.9 532.6 720.0 533.4 717.1 534.2 714.3 535.0 711.4 535.8 708.5 536.6 705.6 537.4 702.8 538.2 699.9 539.0 697.0 539.7 694.1 540.5 691.2 541.3 688.4 542.0 685.5 542.8 682.6 543.6 679.7 544.3 676.8 545.1 673.9 545.8 671.0 546.6 668.1 547.3 665.2 548.0 662.3 548.7 659.4 549.5 656.5 550.2 653.6 550.9 650.7 551.6 647.8 552.3 644.9 553.0 642.0 553.7 639.1 554.4 636.2 555.1 633.3 555.8 630.4 556.4 627.5 557.1 624.6 557.8 621.7 558.4 618.7 559.1 615.8 559.8 612.9 560.4 610.0 561.1 607.1 561.7 604.1 562.4 601.2 563.0 598.3 563.6 595.4 564.2 592.5 564.9 589.5 565.5 586.6 566.1 583.7 566.7 580.8 567.3 577.8 567.9 574.9 568.5 572.0 569.1 569.0 569.7 566.1 570.3 563.2 570.9 560.2 571.5 557.3 572.1 554.4 572.7 551.4 573.3 548.5 573.9 545.6 574.5 542.6 575.1 539.7 575.7 536.8 576.3 533.9 576.9 530.9 577.5 528.0 578.1 525.1 578.7 522.1 579.3 519.2 579.9 516.3 580.5 513.3 581.1 510.4 581.7 507.5 582.3 504.6 582.9 501.6 583.6 498.7 584.2 495.8 584.8 492.9 585.4 489.9 586.1 487.0 586.7 484.1 587.3 481.2 588.0 478.2 588.6 475.3 589.3 472.4 589.9 469.5 590.6 466.6 591.2 463.7 591.9 460.7 592.5 457.8 593.2 454.9 593.8 452.0 594.5 449.1 595.1 446.1 595.8 443.2 596.4 440.3 597.1 437.4 597.7 434.5 598.3 431.5 599.0 428.6 599.6 425.7 600.2 422.8 600.8 419.8 601.5 416.9 602.1 414.0 602.7 411.1 603.3 408.1 604.0 405.2 604.6 402.3 605.2 399.4 605.9 396.4 606.5 393.5 607.1 390.6 607.8 387.7 608.4 384.8 609.0 381.8 609.7 378.9 610.3 376.0 610.9 373.1 611.6 370.1 612.2 367.2 612.9 364.3 613.5 361.4 614.1 358.5 614.8 355.5 615.4 352.6 616.1 349.7 616.7 346.8 617.4 343.9 618.1 341.0 618.7 338.0 619.4 335.1 620.1 332.2 620.7 329.3 621.4 326.4 622.1 323.5 622.8 320.6 623.5 317.7 624.2 314.8 624.9 311.9 625.6 309.0 626.3 306.1 627.0 303.2 627.8 300.3 628.5 297.4 629.3 294.5 630.1 291.6 630.9 288.7 631.7 285.9 632.5 283.0 633.3 280.1 634.2 277.3 635.1 274.4 636.0 271.6 636.9 268.7 637.8 265.9 638.7 263.1 639.7 260.2 640.6 257.4 641.7 254.6 642.7 251.9 643.9 249.1 645.1 246.5 646.5 243.8 648.0 241.3 649.6 238.8 651.3 236.5 653.3 234.4 655.6 232.6 658.0 231.1 660.7 230.2 663.5 229.8 666.2 230.1 668.9 230.9 671.4 232.3 673.7 234.1 675.7 236.1 677.5 238.4 679.1 240.9 680.6 243.4 682.0 246.0 683.3 248.7 684.5 251.4 685.7 254.1 686.8 256.9 688.0 259.6 689.1 262.3 690.3 265.1 691.4 267.8 692.5 270.6 693.6 273.3 694.6 276.1 695.6 278.9 696.6 281.7 697.6 284.6 698.5 287.4 699.4 290.2 700.3 293.1 701.2 295.9 702.1 298.8 702.9 301.6 703.8 304.5 704.6 307.3 705.5 310.2 706.3 313.1 707.1 315.9 707.9 318.8 708.7 321.7 709.5 324.6 710.3 327.4 711.1 330.3 711.9 333.2 712.6 336.1 713.4 339.0 714.2 341.9 714.9 344.7 715.7 347.6 716.4 350.5 717.2 353.4 717.9 356.3 718.7 359.2 719.4 362.1 720.1 365.0 720.9 367.9 721.6 370.8 722.3 373.7 723.1 376.6 723.8 379.5 724.5 382.4 725.3 385.3 726.0 388.2 726.7 391.1 727.4 394.0 728.2 396.9 728.9 399.8 729.6 402.7 730.3 405.6 731.1 408.5 731.8 411.4 732.5 414.3 733.2 417.2 733.9 420.0 734.7 422.9 735.4 425.8 736.1 428.7 736.8 431.6 737.6 434.5 738.3 437.4 739.0 440.3 739.8 443.2 740.5 446.1 741.2 449.0 741.9 451.9 742.7 454.8 743.4 457.7 744.2 460.6 744.9 463.5 745.6 466.4 746.4 469.3 747.1 472.2 747.9 475.1 748.6 478.0 749.4 480.8 750.1 483.7 750.9 486.6 751.7 489.5 752.4 492.4 753.2 495.3 754.0 498.2 754.8 501.0 755.6 503.9 756.3 506.8 757.1 509.7 758.0 512.5 758.8 515.4 759.6 518.3 760.4 521.2 761.2 524.0 762.1 526.9 762.9 529.8 763.8 532.6 764.6 535.5 765.5 538.3 766.3 541.2 767.2 544.0 768.1 546.9 769.0 549.7 769.9 552.5 770.8 555.4 771.8 558.2 772.7 561.0 773.6 563.9 774.6 566.7 775.5 569.5 776.5 572.3 777.5 575.1 778.5 577.9 779.5 580.7 780.5 583.5 781.6 586.3 782.6 589.1 783.7 591.9 784.8 594.6 785.9 597.4 787.0 600.1 788.1 602.9 789.3 605.6 790.4 608.4 791.6 611.1 792.8 613.8 794.0 616.5 795.2 619.2 796.5 621.9 797.7 624.6 799.0 627.3 800.3 629.9 801.6 632.6 802.9 635.2 804.2 637.9 805.6 640.5 806.9 643.1 808.3 645.7 809.7 648.4 811.1 650.9 812.5 653.5 814.0 656.1 815.4 658.7 816.9 661.2 818.4 663.8 819.9 666.3 821.4 668.8 822.9 671.3 824.5 673.8 826.1 676.3 827.7 678.8 829.3 681.2 830.9 683.6 832.6 686.1 834.3 688.5 836.0 690.8 837.7 693.2 839.5 695.5 841.3 697.9 843.1 700.2 844.9 702.4 846.7 704.7 848.6 706.9 850.5 709.1 852.4 711.3 854.4 713.5 856.3 715.6 858.3 717.7 860.3 719.8 862.4 721.9 864.4 723.9 866.5 725.9 868.6 727.9 870.8 729.9 872.9 731.8 875.1 733.7 877.3 735.5 879.5 737.3 881.8 739.1 884.0 740.9 886.3 742.6 888.6 744.3 891.0 746.0 893.3 747.6 895.7 749.2 898.1 750.8 900.5 752.3 902.9 753.8 905.4 755.3 907.8 756.7 910.3 758.1 912.8 759.5 915.3 760.8 917.9 762.0 920.4 763.3 923.0 764.4 925.6 765.6 928.2 766.7 930.9 767.7 933.5 768.7 936.2 769.6 938.9 770.5 941.5 771.4 944.2 772.2 947.0 772.9 949.7 773.6 952.4 774.3 955.1 775.0 957.9 775.6 960.7 776.1 963.4 776.7 966.2 777.2 968.9 777.6 971.7 778.1 974.5 778.5 977.3 778.8 980.1 779.2 982.8 779.5 985.6 779.8 988.4 780.1 991.2 780.4 994.0 780.6 996.8 780.8 999.6 781.1 1002.4 781.2 1005.2 781.4 1008.0 781.6 1010.8 781.7 1013.6 781.9 1016.4 782.0 1019.2 782.2 1022.0 782.3 1024.8 782.4 1027.6 782.5 1030.4 782.6 1033.2 782.7 1036.0 782.8 1038.8 782.9 1041.6 783.0 1044.4 783.2 1047.2 783.3 1050.0 783.4 1052.8 783.5 1055.6 783.6 1058.4 783.7 1061.2 783.8 1064.0 783.9 1066.8 784.0 1069.6 784.1 1072.4 784.2 1075.3 784.3 1078.1 784.4 1080.9 784.6 1083.7 784.7 1086.5 784.8 1089.3 784.9 1092.1 785.1 1094.9 785.2 1097.7 785.4 1100.5 785.5 1103.3 785.7 1106.1 785.8 1108.9 786.0 1111.7 786.2 1114.5 786.3 1117.3 786.5 1120.1 786.7 1122.9 786.9 1125.7 787.1 1128.5 787.3 1131.2 787.5 1134.0 787.7 1136.8 787.9 1139.6 788.1 1142.4 788.3 1145.2 788.5 1148.0 788.7 1150.8 788.9 1153.6 789.1 1156.4 789.3 1159.2 789.5 1162.0 789.7 1164.8 789.9 1167.6 790.1 1170.4 790.3 1173.2 790.5 1176.0 790.7 1178.8 790.9 1181.6 791.1 1184.4 791.3 1187.2 791.5 1190.0 791.7 1192.8 791.9 1195.6 792.0 1198.4 792.2 1201.2 792.4 1204.0 792.5 1206.8 792.7 1209.6 792.9 1212.4 793.0 1215.2 793.2 1218.0 793.4 1220.8 793.5 1223.6 793.7 1226.4 793.8 1229.2 794.0 1232.0 794.1 1234.8 794.3 1237.6 794.4 1240.4 794.5 1243.2 794.7 1246.0 794.8 1248.8 795.0 1251.6 795.1 1254.4 795.2 1257.2 795.4 1260.0 795.5 1262.8 795.6 1265.6 795.8 1268.4 795.9 1271.2 796.0 1274.0 796.2 1276.8 796.3 1279.6 796.4 1282.4 796.5 1285.2 796.7 1288.0 796.8 1290.8 796.9 1293.6 797.0 1296.4 797.2 1299.2 797.3 1302.0 797.4 1304.8 797.5 1307.6 797.7 1310.4 797.8 1313.2 797.9 1316.0 798.0 1318.8 798.1 1321.6 798.3 1324.4 798.4 1327.2 798.5 1330.0 798.6 1332.8 798.8 1335.6 798.9 1338.4 799.0 1341.2 799.1 1344.0 799.2 1346.8 799.3 1349.6 799.5 1352.5 799.6 1355.3 799.7 1358.1 799.8 1360.9 799.9 1363.7 800.1 1366.5 800.2 1369.3 800.3 1372.1 800.4 1374.9 800.5 1377.7 800.7 1380.5 800.8 1383.3 800.9 1386.1 801.0 1388.9 801.1 1391.7 801.2 1394.5 801.4 1397.3 801.5 1400.1 801.6 1402.9 801.7 1405.7 801.8 1408.5 802.0 1411.3 802.1 1414.1 802.2 1416.9 802.3 1419.7 802.4 1422.5 802.6 1425.3 802.7 1428.1 802.8 1430.9 802.9 1433.7 803.0 1436.5 803.2 1439.3 803.3 1442.1 803.4 1444.9 803.5 1447.7 803.7 1450.5 803.8 1453.3 803.9 1456.1 804.0 1458.9 804.1 1461.7 804.3 1464.5 804.4 1467.3 804.5 1470.1 804.6 1472.9 804.7 1475.7 804.8 1478.5 805.0 1481.3 805.1 1484.1 805.2 1486.9 805.3 1489.7 805.4 1492.5 805.5 1495.3 805.6 1498.1 805.7 1500.9 805.8 1503.7 805.9 1506.5 806.0 1509.3 806.1 1512.2 806.2 1515.0 806.3"/>
</g>
<g id="frame">
<line class="f" x1="58.6" y1="59.75" x2="1625.8" y2="59.75" stroke-width="7.6"/>
<line class="f" x1="62.6" y1="56" x2="59.2" y2="1030.6" stroke-width="7.2"/>
<line class="f" x1="55.5" y1="1027.6" x2="1622" y2="1027.6" stroke-width="6.6"/>
<line class="f" x1="1621.6" y1="56" x2="1618.7" y2="1060.4" stroke-width="8.2"/>
<line class="f" x1="102.2" y1="1027" x2="102.2" y2="1049.7" stroke-width="7.5"/>
<line class="f" x1="252.2" y1="1027" x2="252.2" y2="1048.4" stroke-width="7.5"/>
<line class="f" x1="406.3" y1="1027" x2="406.3" y2="1052.6" stroke-width="7.5"/>
<line class="f" x1="555.2" y1="1027" x2="555.2" y2="1049.7" stroke-width="7.5"/>
<line class="f" x1="708.2" y1="1027" x2="708.2" y2="1060.2" stroke-width="7.5"/>
<line class="f" x1="859.3" y1="1027" x2="859.3" y2="1048" stroke-width="7.5"/>
<line class="f" x1="1010.7" y1="1027" x2="1010.7" y2="1060" stroke-width="7.5"/>
<line class="f" x1="1163.3" y1="1027" x2="1163.3" y2="1048" stroke-width="7.5"/>
<line class="f" x1="1314.5" y1="1027" x2="1314.5" y2="1060" stroke-width="7.5"/>
<line class="f" x1="1466.5" y1="1027" x2="1466.5" y2="1048" stroke-width="7.5"/>
</g>
<g id="ticklabels">
<text class="tl" x="62.10" y="1127.60" transform="matrix(1 0 0 1.03 0 -33.828)">30</text>
<g clip-path="url(#kt31)"><text class="tl" x="211.60" y="1127.60" transform="matrix(1 0 0 1.03 0 -33.828)">3<tspan dx="2.6">1</tspan></text></g>
<text class="tl" x="368.15" y="1127.60" transform="matrix(1 0 0 1.03 0 -33.828)">32</text>
<text class="tl" x="517.75" y="1127.60" transform="matrix(1 0 0 1.03 0 -33.828)">33</text>
<text class="tl" x="672.60" y="1127.60" transform="matrix(1 0 0 1.03 0 -33.828)">34</text>
<text class="tl" x="827.70" y="1127.60" transform="matrix(1 0 0 1.03 0 -33.828)">35</text>
<text class="tl" x="981.00" y="1127.60" transform="matrix(1 0 0 1.03 0 -33.828)">36</text>
<text class="tl" x="1128.60" y="1127.60" transform="matrix(1 0 0 1.03 0 -33.828)">37</text>
<text class="tl" x="1279.60" y="1127.60" transform="matrix(1 0 0 1.03 0 -33.828)">38</text>
<text class="tl" x="1428.65" y="1127.60" transform="matrix(1 0 0 1.03 0 -33.828)">39</text>
<text class="tl" x="1579.40" y="1127.60" transform="matrix(1 0 0 1.03 0 -33.828)">40</text>
</g>
<text class="ax" x="738.35" y="1225.40" transform="matrix(1 0 0 1.025 0 -30.635)">Minute</text>
<g id="peaks">
<text class="pk" x="465.10" y="215.80" transform="matrix(1 0 0 1.028 0 -6.042)">3</text>
<text class="pk" x="608.00" y="189.20" transform="matrix(1 0 0 1.028 0 -5.298)">2</text>
<text class="pk" x="689.15" y="201.60" transform="matrix(1 0 0 1.028 0 -5.645)">4</text>
<g clip-path="url(#kp1)"><text class="pk" x="755.80" y="179.20" transform="matrix(1 0 0 1.028 0 -5.018)">1</text></g>
</g>
<g id="legend">
<line class="f" x1="935.4" y1="301.5" x2="1065.2" y2="301.5" stroke-width="8.5" stroke-dasharray="16.1 7.1"/>
<line class="f" x1="941.8" y1="373.3" x2="1069.8" y2="373.3" stroke-width="8.5"/>
<line class="f" x1="942.3" y1="445.8" x2="1071.7" y2="445.8" stroke-width="8.5"/>
<line class="f" x1="944.3" y1="519" x2="1072.7" y2="519" stroke-width="8.5"/>
<g clip-path="url(#kl1)"><text class="lg" x="1078.10" y="321.70" transform="matrix(1 0 0 1.03 0 -9.651)">1(PPO)</text></g>
<text class="lg" x="1077.10" y="397.40" transform="matrix(1 0 0 1.03 0 -11.922)">2 (PPO-<tspan font-style="italic">b</tspan>-PEPK)</text>
<text class="lg" x="1077.85" y="473.00" transform="matrix(1 0 0 1.03 0 -14.190)">3 (PPO-<tspan font-style="italic">b</tspan>-PEPK)</text>
<text class="lg" x="1077.10" y="547.70" transform="matrix(1 0 0 1.03 0 -16.431)">4 (PPO-<tspan font-style="italic">b</tspan>-PEPK)</text>
</g>
</svg>
</body></html>
